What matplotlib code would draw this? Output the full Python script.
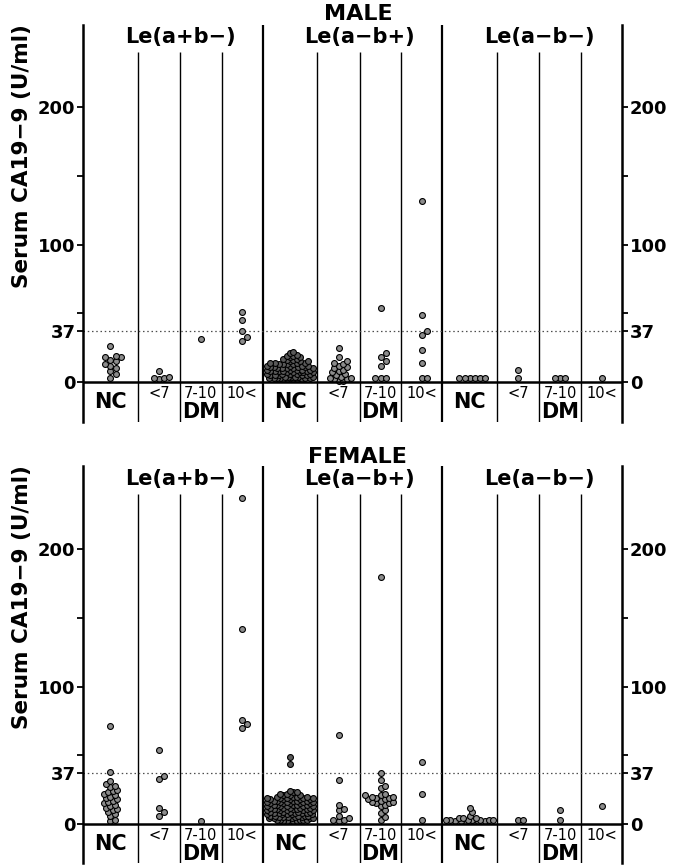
import matplotlib.pyplot as plt
import numpy as np

plt.rcParams['font.family'] = ['DejaVu Sans']
plt.rcParams['font.weight'] = 'bold'

groups = ['Le(a+b\u2212)', 'Le(a\u2212b+)', 'Le(a\u2212b\u2212)']
subcols = ['NC', '<7', '7-10', '10<']

# ---------------- MALE (serum CA19-9, U/ml) ----------------
m_ab_nc = [26, 19, 18, 18, 16, 15, 13, 12, 10, 8, 6, 3]
m_ab_lt7 = [8, 4, 3, 3, 2]
m_ab_710 = [31]
m_ab_gt10 = [51, 45, 37, 33, 30]

m_b_nc = [22, 21, 20, 19, 19, 18, 18, 17, 17, 16, 16, 15, 15, 15, 14, 14, 14, 14,
          13, 13, 13, 13, 12, 12, 12, 12, 11, 11, 11, 11, 10, 10, 10, 10, 10,
          9, 9, 9, 9, 9, 8, 8, 8, 8, 8, 7, 7, 7, 7, 7, 6, 6, 6, 6, 6,
          5, 5, 5, 5, 5, 4, 4, 4, 4, 4, 4, 3, 3, 3, 3, 3, 3, 2, 2, 2, 2, 2, 2]
m_b_lt7 = [25, 18, 15, 14, 13, 12, 11, 10, 9, 8, 7, 6, 5, 4, 3, 3, 2, 2, 1, 1]
m_b_710 = [54, 21, 18, 15, 12, 3, 3, 3]
m_b_gt10 = [132, 49, 37, 34, 23, 14, 3, 3]

m_n_nc = [3, 3, 3, 3, 3, 3]
m_n_lt7 = [9, 3]
m_n_710 = [3, 3, 3]
m_n_gt10 = [3]

# ---------------- FEMALE ----------------
f_ab_nc = [71, 38, 31, 29, 28, 27, 25, 24, 23, 22, 21, 20, 19, 18, 17, 16, 15,
           14, 13, 12, 11, 10, 9, 7, 6, 3, 2]
f_ab_lt7 = [54, 35, 33, 12, 9, 6]
f_ab_710 = [2]
f_ab_gt10 = [237, 142, 76, 73, 70]

f_b_nc = [49, 44, 24, 23, 23, 22, 22, 21, 21, 21, 20, 20, 20, 20, 19, 19, 19, 19, 19,
          18, 18, 18, 18, 18, 17, 17, 17, 17, 17, 16, 16, 16, 16, 16,
          15, 15, 15, 15, 15, 14, 14, 14, 14, 14, 13, 13, 13, 13, 13,
          12, 12, 12, 12, 12, 11, 11, 11, 11, 11, 10, 10, 10, 10, 10,
          9, 9, 9, 9, 9, 8, 8, 8, 8, 8, 7, 7, 7, 7, 7, 6, 6, 6, 6, 6,
          5, 5, 5, 5, 5, 4, 4, 4, 4, 4, 3, 3, 3, 3, 3, 2, 2, 2, 2, 2]
f_b_lt7 = [65, 32, 14, 11, 10, 6, 4, 3, 3, 2]
f_b_710 = [180, 37, 32, 28, 26, 22, 21, 21, 20, 20, 19, 19, 18, 18, 17, 16, 16,
           15, 15, 14, 13, 10, 8, 5, 3]
f_b_gt10 = [45, 22, 3]

f_n_nc = [12, 9, 6, 4, 4, 4, 3, 3, 3, 3, 3, 3, 3, 2, 2, 2, 2, 2, 2, 2]
f_n_lt7 = [3, 3]
f_n_710 = [10, 3]
f_n_gt10 = [13]

male = [[m_ab_nc, m_ab_lt7, m_ab_710, m_ab_gt10],
        [m_b_nc, m_b_lt7, m_b_710, m_b_gt10],
        [m_n_nc, m_n_lt7, m_n_710, m_n_gt10]]
female = [[f_ab_nc, f_ab_lt7, f_ab_710, f_ab_gt10],
          [f_b_nc, f_b_lt7, f_b_710, f_b_gt10],
          [f_n_nc, f_n_lt7, f_n_710, f_n_gt10]]

# column edges inside one Lewis group (group width = 1)
edges = [0, 0.305, 0.54, 0.772, 1.0]

W, H = 674, 865
AX_W, AX_H = 539, 397


def swarm(values, half_w, d, step):
    """simple beeswarm in pixel units, returns x offsets (px)"""
    placed = []
    offs = []
    cands = [0.0]
    k = 1
    while k * step <= half_w:
        cands += [k * step, -k * step]
        k += 1
    for v in values:
        y = v
        best, best_gap = 0.0, -1.0
        for c in cands:
            if placed:
                gap = min(np.hypot(c - px, y - py) for px, py in placed)
            else:
                gap = 1e9
            if gap >= d:
                best = c
                break
            if gap > best_gap:
                best, best_gap = c, gap
        placed.append((best, y))
        offs.append(best)
    return offs


def draw_panel(ax, data, title, ylo, yhi):
    px_x = AX_W / 3.0
    px_y = AX_H / (yhi - ylo)
    ax.set_xlim(0, 3)
    ax.set_ylim(ylo, yhi)

    for g in range(3):
        for i in range(4):
            vals = np.sort(np.array(data[g][i], dtype=float))
            n = len(vals)
            d = 3.3 if n > 40 else (4.3 if n > 15 else 5.2)
            half_w = (edges[i + 1] - edges[i]) * px_x / 2 - 3
            offs = swarm(vals * px_y, half_w, d, d / 2)
            xc = g + (edges[i] + edges[i + 1]) / 2
            xs = xc + np.array(offs) / px_x
            fc = '0.35' if n > 40 else '0.55'
            ax.scatter(xs, vals, s=18, facecolor=fc, edgecolor='black',
                       linewidth=0.8, zorder=3)

    # dividers
    ax.vlines([1, 2], ylo, yhi, color='black', lw=1.6)
    sub = [g + e for g in range(3) for e in edges[1:4]]
    ax.vlines(sub, ylo, 240, color='black', lw=1.0)
    ax.axhline(0, color='black', lw=1.8, zorder=4)
    ax.axhline(37, color='0.3', lw=0.9, ls=(0, (1.2, 2.2)))

    for s in ['top', 'bottom']:
        ax.spines[s].set_visible(False)
    for s in ['left', 'right']:
        ax.spines[s].set_linewidth(1.8)

    ax.set_xticks([])
    ax.set_yticks([0, 37, 50, 100, 150, 200])
    ax.set_yticklabels(['0', '37', '', '100', '', '200'])
    ax.tick_params(axis='y', direction='out', length=4, width=1.3,
                   labelsize=13, right=True, labelright=True, pad=1.5)

    for g in range(3):
        ax.text(g + 0.54, 251, groups[g], ha='center', va='center',
                fontsize=15)
        for i in range(4):
            xc = g + (edges[i] + edges[i + 1]) / 2
            if i == 0:
                ax.text(xc, -14.8, subcols[i], ha='center', va='center',
                        fontsize=15)
            else:
                ax.text(xc, -8.5, subcols[i], ha='center', va='center',
                        fontsize=10.5, fontweight='normal')
        xdm = g + (edges[2] + edges[3]) / 2
        ax.text(xdm, -21.5, 'DM', ha='center', va='center', fontsize=15)

    ax.text(1.53, 267.5, title, ha='center', va='center', fontsize=16,
            clip_on=False)


fig = plt.figure(figsize=(W / 100, H / 100), dpi=100)
ax1 = fig.add_axes([83 / W, 1 - 422 / H, AX_W / W, AX_H / H])
ax2 = fig.add_axes([83 / W, 1 - 863 / H, AX_W / W, AX_H / H])

draw_panel(ax1, male, 'MALE', -29.1, 259.8)
draw_panel(ax2, female, 'FEMALE', -28.4, 260.6)

ylab = 'Serum CA19\u22129 (U/ml)'
fig.text(22 / W, 1 - 156 / H, ylab, rotation=90, ha='center', va='center',
         fontsize=15.5)
fig.text(22 / W, 1 - 597 / H, ylab, rotation=90, ha='center', va='center',
         fontsize=15.5)

fig.savefig('out.png', dpi=100)
